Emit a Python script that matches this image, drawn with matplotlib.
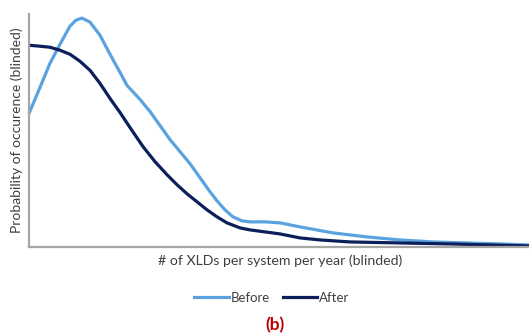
import matplotlib
matplotlib.use("Agg")
import matplotlib.pyplot as plt
from matplotlib.lines import Line2D

# values (arbitrary blinded units)
before_x = [0, 11, 21, 31, 41, 47, 53, 61, 71, 81, 91, 98, 111, 121, 131, 141, 151, 161, 171, 181,
            188, 196, 204, 213, 221, 236, 251, 271, 304, 338, 371, 404, 438, 471, 500]
before_y = [133, 159, 183, 202, 220, 226, 228, 224, 211, 192, 174, 161, 147, 135, 121, 107, 95, 83,
            69, 55, 46, 37, 30, 26, 25, 25, 24, 20, 14, 10, 7, 5, 4, 3, 2]
after_x = [0, 11, 21, 31, 41, 51, 61, 71, 81, 91, 101, 114, 126, 138, 148, 158, 168, 178, 188, 198,
           211, 221, 236, 251, 271, 291, 321, 371, 421, 500]
after_y = [201, 200, 199, 196, 192, 185, 176, 163, 148, 134, 119, 100, 85, 72, 62, 53, 45, 37, 30,
           24, 19, 17, 15, 13, 9, 7, 5, 4, 3, 1]
series_names = ["Before", "After"]
x_label = "# of XLDs per system per year (blinded)"
y_label = "Probability of occurence (blinded)"
panel_label = "(b)"

light = "#5BA3E0"
dark = "#0C1E5B"
fam = ["Lato", "DejaVu Sans"]

fig = plt.figure(figsize=(5.29, 3.36), dpi=100)
ax = fig.add_axes([0.0548, 0.265, 0.9452, 0.693])
ax.plot(before_x, before_y, color=light, lw=2.3, solid_joinstyle="round", solid_capstyle="round")
ax.plot(after_x, after_y, color=dark, lw=2.3, solid_joinstyle="round", solid_capstyle="round")
ax.set_xlim(0, 500)
ax.set_ylim(0, 232)
ax.set_xticks([])
ax.set_yticks([])
for s in ["top", "right"]:
    ax.spines[s].set_visible(False)
for s in ["left", "bottom"]:
    ax.spines[s].set_color("#A6A6A6")
    ax.spines[s].set_linewidth(1.6)

fig.text(280 / 529, 1 - 261 / 336, x_label, ha="center", va="center", fontsize=10.2,
         color="#404040", family=fam)
fig.text(17 / 529, 1 - 130 / 336, y_label, ha="center", va="center", rotation=90,
         fontsize=10, color="#404040", family=fam)

handles = [Line2D([], [], color=light, lw=2.3), Line2D([], [], color=dark, lw=2.3)]
fig.legend(handles, series_names, loc="center", bbox_to_anchor=(272 / 529, 1 - 298 / 336),
           ncol=2, frameon=False, handlelength=2.6, handletextpad=0.15,
           columnspacing=1.0, prop={"family": fam, "size": 9.5}, labelcolor="#404040")

fig.text(275 / 529, 1 - 325 / 336, panel_label, ha="center", va="center", fontsize=12.5,
         fontweight="bold", color="#C00000", family=fam)

fig.savefig("out.png", dpi=100, facecolor="white")
